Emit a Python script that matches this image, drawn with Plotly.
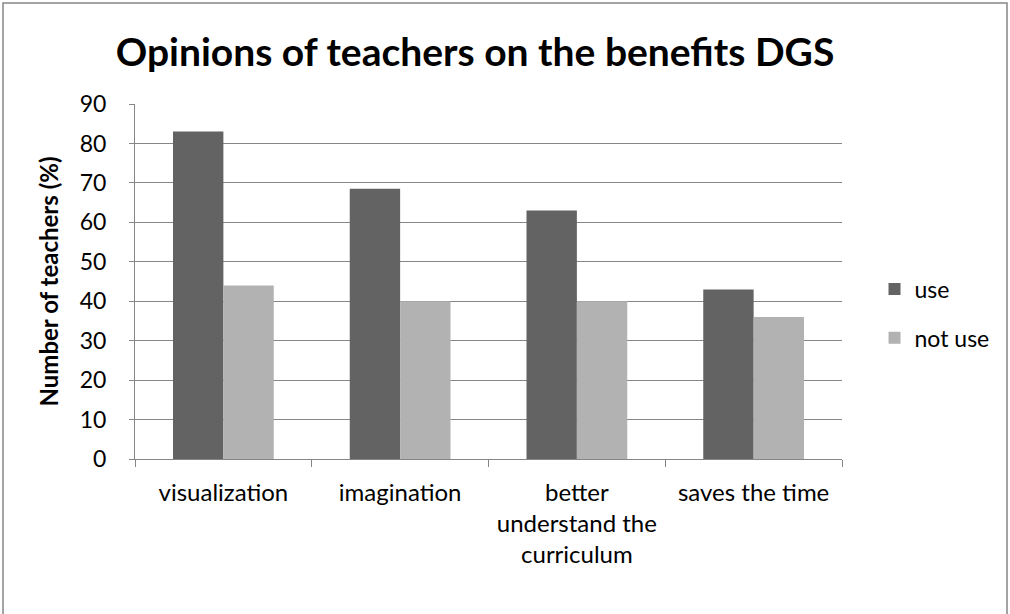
import plotly.graph_objects as go

categories = ["visualization", "imagination", "better<br>understand the<br>curriculum", "saves the time"]
use_vals = [83, 68.5, 63, 43]
not_use_vals = [44, 40, 40, 36]
y_ticks = [0, 10, 20, 30, 40, 50, 60, 70, 80, 90]

FONT = "Lato, Open Sans, sans-serif"

fig = go.Figure()
fig.add_trace(go.Bar(x=categories, y=use_vals, name="use", legendgroup="a",
                     marker=dict(color="#636363", line=dict(width=0))))
fig.add_trace(go.Bar(x=categories, y=not_use_vals, name="not use", legendgroup="b",
                     marker=dict(color="#B2B2B2", line=dict(width=0))))

fig.update_layout(
    width=1010, height=614,
    paper_bgcolor="white", plot_bgcolor="white",
    margin=dict(l=135, r=168, t=104, b=155, autoexpand=False),
    barmode="group", bargap=0.43, bargroupgap=0,
    title=dict(text="<b>Opinions of teachers on the benefits DGS</b>", x=475/1010, xanchor="center",
               y=1 - 52/614, yanchor="middle", font=dict(family=FONT, size=39, color="black")),
    font=dict(family=FONT, size=23, color="black"),
    legend=dict(x=1.046, xanchor="left", y=0.41, yanchor="middle", font=dict(size=23),
                tracegroupgap=16, bgcolor="rgba(0,0,0,0)"),
    showlegend=True,
    xaxis=dict(showgrid=False, showline=True, linecolor="#868686", linewidth=1,
               ticks="outside", tickson="boundaries", ticklen=7, tickcolor="#868686",
               tickfont=dict(size=24), ticklabelstandoff=12),
    yaxis=dict(range=[0, 90], tickvals=y_ticks, showgrid=True, gridcolor="#868686", gridwidth=1,
               showline=True, linecolor="#868686", ticks="outside", ticklen=5, tickcolor="#868686",
               tickfont=dict(size=23), zeroline=False, ticklabelstandoff=18,
               title=dict(text="<b>Number of teachers (%)</b>", font=dict(size=24), standoff=14)),
    shapes=[dict(type="rect", xref="paper", yref="paper",
                 x0=-132/707, x1=1 + 165/707, y0=-160/355, y1=1 + 101/355,
                 line=dict(color="#868686", width=1.5), fillcolor="rgba(0,0,0,0)", layer="below")],
)

fig.write_html("out.html", config={"displayModeBar": False},
               post_script="document.body.style.margin='0';")
